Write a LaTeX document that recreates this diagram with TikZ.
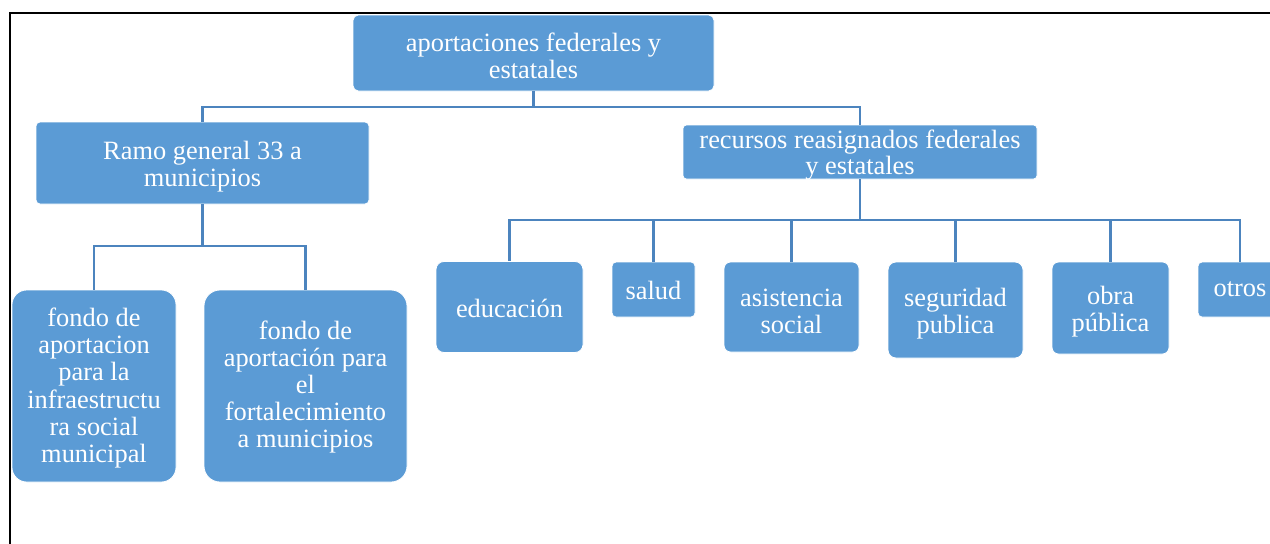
\documentclass[tikz,border=0pt]{standalone}
\usepackage{fontspec}
\setmainfont{Liberation Serif}
\definecolor{boxblue}{HTML}{5B9BD5}
\definecolor{lineblue}{HTML}{4C84BE}
\begin{document}
\begin{tikzpicture}[x=0.75pt,y=-0.75pt,
  box/.style={rectangle, fill=boxblue, draw=white, line width=0.6pt, inner sep=0pt},
  txt/.style={text=white, align=center, inner sep=0pt, font=\fontsize{19.8}{20.4}\selectfont},
  conn/.style={draw=lineblue, line width=1.6pt},
  frame/.style={draw=black, line width=1pt}]
\clip (0,0) rectangle (1270,543);
\draw[frame] (10,545) -- (10,13) -- (1272,13);

\node[box, minimum width=270.75pt, minimum height=57pt, rounded corners=4pt] (top) at (533.5,53) {};
\node[txt, yshift=-2.3pt] (topt) at (top.center) {aportaciones federales y\\estatales};
\node[box, minimum width=249.75pt, minimum height=61.5pt, rounded corners=3pt] (ramo) at (202.5,163) {};
\node[txt, yshift=-2.6pt] (ramot) at (ramo.center) {Ramo general 33 a\\municipios};
\node[box, minimum width=265.5pt, minimum height=40.5pt, rounded corners=2.5pt] (rec) at (860,152) {};
\node[txt, yshift=-2.5pt, font=\fontsize{19.8}{19.6}\selectfont] (rect) at (rec.center) {recursos reasignados federales\\y estatales};

\node[box, minimum width=123pt, minimum height=144pt, rounded corners=11pt] (f1) at (94,386) {};
\node[txt, yshift=-1.5pt] (f1t) at (f1.center) {fondo de\\aportacion\\para la\\infraestructu\\ra social\\municipal};
\node[box, minimum width=152.25pt, minimum height=144pt, rounded corners=12pt] (f2) at (305.5,386) {};
\node[txt, yshift=-0.8pt] (f2t) at (f2.center) {fondo de\\aportación para\\el\\fortalecimiento\\a municipios};

\node[box, minimum width=110.25pt, minimum height=68.25pt, rounded corners=6pt] (edu) at (509.5,307) {};
\node[txt, yshift=-0.8pt] (edut) at (edu.center) {educación};
\node[box, minimum width=62.25pt, minimum height=41.25pt, rounded corners=3pt] (sal) at (653.5,289.5) {};
\node[txt, yshift=-0.8pt] (salt) at (sal.center) {salud};
\node[box, minimum width=101.25pt, minimum height=67.5pt, rounded corners=5pt] (asi) at (791.5,307) {};
\node[txt, yshift=-3pt] (asit) at (asi.center) {asistencia\\social};
\node[box, minimum width=101.25pt, minimum height=72pt, rounded corners=6pt] (seg) at (955.5,310) {};
\node[txt, yshift=-3pt] (segt) at (seg.center) {seguridad\\publica};
\node[box, minimum width=87.75pt, minimum height=69pt, rounded corners=5pt] (obr) at (1110.5,308) {};
\node[txt, yshift=-3pt] (obrt) at (obr.center) {obra\\pública};
\node[box, minimum width=63pt, minimum height=41.25pt, rounded corners=3pt] (otr) at (1240,289.5) {};
\node[txt] (otrt) at (otr.center) {otros};

\coordinate (j0) at (533.5,107);
\coordinate (j1) at (202.5,246);
\coordinate (j2) at (860,220);

\draw[conn] (top.south) -- (j0);
\draw[conn] (j0) -| (ramo.north);
\draw[conn] (j0) -| (rec.north);

\draw[conn] (ramo.south) -- (j1);
\draw[conn] (j1) -| (f1.north);
\draw[conn] (j1) -| (f2.north);

\draw[conn] (rec.south) -- (j2);
\draw[conn] (j2) -| (edu.north);
\draw[conn] (j2) -| (sal.north);
\draw[conn] (j2) -| (asi.north);
\draw[conn] (j2) -| (seg.north);
\draw[conn] (j2) -| (obr.north);
\draw[conn] (j2) -| (otr.north);
\end{tikzpicture}
\end{document}
